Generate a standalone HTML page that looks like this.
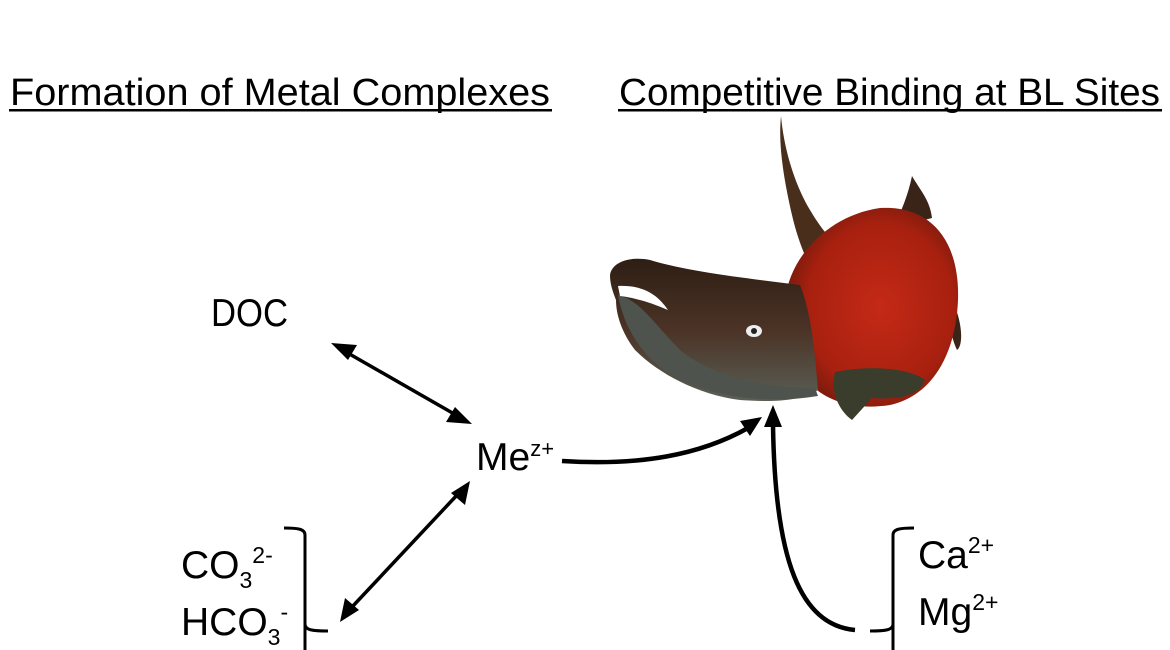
<!DOCTYPE html>
<html><head><meta charset="utf-8"><style>
html,body{margin:0;padding:0;background:#fff;}
svg{display:block;}
text{font-family:"Liberation Sans",sans-serif;fill:#000;}
</style></head><body>
<svg width="1170" height="650" viewBox="0 0 1170 650" xmlns="http://www.w3.org/2000/svg">
<defs>
<radialGradient id="red" cx="0.55" cy="0.5" r="0.6">
<stop offset="0" stop-color="#c42a16"/><stop offset="0.7" stop-color="#a8200f"/><stop offset="1" stop-color="#6a1a0c"/>
</radialGradient>
<linearGradient id="head" x1="0" y1="0" x2="0" y2="1">
<stop offset="0" stop-color="#2e1e14"/><stop offset="0.5" stop-color="#4b3326"/><stop offset="1" stop-color="#5a5f55"/>
</linearGradient>
</defs>

<text x="10" y="105" font-size="38" textLength="540" lengthAdjust="spacingAndGlyphs">Formation of Metal Complexes</text>
<rect x="9" y="109" width="543" height="2.5"/>
<text x="619" y="105" font-size="38" textLength="541" lengthAdjust="spacingAndGlyphs">Competitive Binding at BL Sites</text>
<rect x="618" y="109" width="544" height="2.5"/>

<!-- Fish -->
<g>
<path d="M781,116 C784,150 795,185 810,210 C825,235 835,245 850,250 L830,300 C815,280 800,250 792,215 C784,180 778,145 781,116 Z" fill="#4a2e1c"/>
<path d="M912,176 C920,190 930,200 932,218 L893,228 C902,210 908,195 912,176 Z" fill="#3a2418"/>
<path d="M952,300 C962,320 964,345 957,350 C952,340 947,320 952,300 Z" fill="#3a2418"/>
<path d="M785,300 C790,255 830,215 880,208 C930,205 960,240 958,300 C956,350 935,395 890,405 C845,412 810,395 798,365 Z" fill="url(#red)"/>
<path d="M610,275 C612,262 630,256 650,260 C690,272 745,278 800,285 C812,315 815,355 818,390 C800,402 770,402 740,400 C700,395 660,375 635,350 C622,333 616,315 616,300 C612,290 610,283 610,275 Z" fill="url(#head)"/>
<path d="M618,295 C640,300 655,325 680,350 C710,375 760,388 815,388 L818,396 C770,404 720,398 680,380 C650,365 625,335 618,295 Z" fill="#4e544d"/>
<path d="M618,286 C640,285 656,292 668,310 C652,303 636,298 620,296 Z" fill="#fff"/>
<path d="M835,372 C870,365 910,368 925,380 C920,396 898,400 872,398 L852,420 C838,410 830,390 835,372 Z" fill="#3b3d2c"/>
<ellipse cx="754" cy="331" rx="8" ry="6" fill="#eee"/>
<circle cx="754" cy="331" r="3" fill="#222"/>
</g>

<text x="211" y="326" font-size="39" textLength="77" lengthAdjust="spacingAndGlyphs">DOC</text>
<text x="476" y="470" font-size="39">Me<tspan font-size="22" dy="-14">z+</tspan></text>
<text x="181" y="578" font-size="39">CO<tspan font-size="23" dy="10">3</tspan><tspan font-size="23" dy="-25">2-</tspan></text>
<text x="181" y="635" font-size="39">HCO<tspan font-size="23" dy="10">3</tspan><tspan font-size="23" dy="-25">-</tspan></text>
<text x="918" y="568" font-size="39">Ca<tspan font-size="23" dy="-15">2+</tspan></text>
<text x="918" y="625" font-size="39">Mg<tspan font-size="23" dy="-15">2+</tspan></text>

<path d="M284,528 C298,528 305,529 305,535 L305,624 C305,630 312,631 328,631 M305,624 L305,650" fill="none" stroke="#000" stroke-width="3"/>
<path d="M914,528 C900,528 893,529 893,535 L893,624 C893,630 886,631 870,631 M893,624 L893,650" fill="none" stroke="#000" stroke-width="3"/>

<g stroke="#000" stroke-width="3.5" fill="none">
<line x1="346" y1="352" x2="456" y2="415"/>
<line x1="352" y1="607" x2="458" y2="494"/>
<path d="M562,461 C640,466 700,455 748,428" stroke-width="4.5"/>
<path d="M855,630 C800,625 775,560 773,425" stroke-width="4.5"/>
</g>
<g fill="#000">
<polygon points="331,343 357,345 348,360"/>
<polygon points="472,424 446,422 455,407"/>
<polygon points="340,622 345,598 359,610"/>
<polygon points="470,481 465,505 451,493"/>
<polygon points="762,417 740,421 750,436"/>
<polygon points="773,405 764,427 782,427"/>
</g>
</svg>
</body></html>
